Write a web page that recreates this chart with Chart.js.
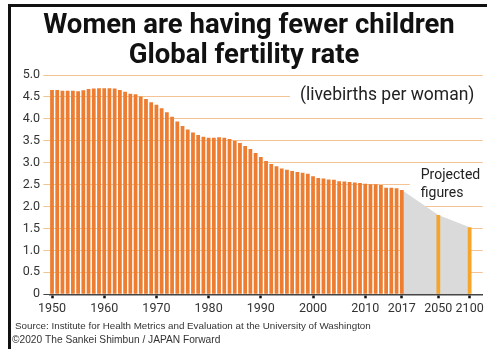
<!DOCTYPE html>
<html>
<head>
<meta charset="utf-8">
<script src="https://cdn.jsdelivr.net/npm/chart.js@4.4.1/dist/chart.umd.min.js"></script>
<style>
  html, body { margin: 0; padding: 0; background: #fff; }
  #wrap { position: relative; width: 487px; height: 349px; overflow: hidden; }
  #wrap canvas { position: absolute; left: 0; top: 0; }
  #frame { position: absolute; left: 8px; top: 4px; width: 500px; height: 360px;
           border-top: 3px solid #111; border-left: 3px solid #111; pointer-events: none; }
</style>
</head>
<body>
<div id="wrap">
  <canvas id="chart" width="487" height="349"></canvas>
  <div id="frame"></div>
</div>
<script>
// Global total fertility rate (live births per woman), 1950-2017
const historyYears = Array.from({ length: 68 }, (_, i) => String(1950 + i));
const fertility = [
  4.66, 4.66, 4.64, 4.64, 4.64, 4.63, 4.65, 4.68, 4.69, 4.70,   // 1950-1959
  4.70, 4.70, 4.69, 4.66, 4.62, 4.57, 4.56, 4.51, 4.45, 4.38,   // 1960-1969
  4.32, 4.24, 4.15, 4.05, 3.94, 3.84, 3.76, 3.69, 3.63, 3.59,   // 1970-1979
  3.57, 3.57, 3.58, 3.57, 3.54, 3.50, 3.45, 3.38, 3.31, 3.22,   // 1980-1989
  3.13, 3.04, 2.97, 2.92, 2.87, 2.84, 2.81, 2.79, 2.77, 2.75,   // 1990-1999
  2.69, 2.65, 2.64, 2.62, 2.61, 2.58, 2.57, 2.56, 2.55, 2.54,   // 2000-2009
  2.52, 2.51, 2.51, 2.49, 2.43, 2.43, 2.42, 2.38                // 2010-2017
];
// Projections
const projectedYears = ['2050', '2100'];
const projectedFertility = [1.81, 1.53];

// Years that get a tick dot and a label on the x axis
const tickYears = ['1950', '1960', '1970', '1980', '1990', '2000', '2010', '2017', '2050', '2100'];

const titleLines = ['Women are having fewer children', 'Global fertility rate'];
const unitLabel = '(livebirths per woman)';
const projectedLabel = ['Projected', 'figures'];
const sourceLines = [
  'Source: Institute for Health Metrics and Evaluation at the University of Washington',
  '\u00A92020 The Sankei Shimbun / JAPAN Forward'
];

// Category slots: projected years sit a few empty slots further along the axis
const blank = n => Array(n).fill('');
const categories = [
  ...historyYears,
  ...blank(6), projectedYears[0],
  ...blank(5), projectedYears[1],
  ...blank(2)
];

const historyData = categories.map(c => {
  const i = historyYears.indexOf(c);
  return i >= 0 ? fertility[i] : null;
});
const projectedData = categories.map(c => {
  const i = projectedYears.indexOf(c);
  return i >= 0 ? projectedFertility[i] : null;
});
// Shaded wedge from the last observed year through the projections
const lastYear = historyYears[historyYears.length - 1];
const shadeData = categories.map(c => {
  if (c === lastYear) return fertility[fertility.length - 1];
  const i = projectedYears.indexOf(c);
  return i >= 0 ? projectedFertility[i] : null;
});

const GRID = '#f3c393';
const AXIS = '#444';
const LABEL_FONT = 'Roboto, "Open Sans", sans-serif';

const decorations = {
  id: 'decorations',
  beforeDatasetsDraw(chart) {
    const { ctx, scales } = chart;
    const y = scales.y, x = scales.x;
    ctx.save();
    ctx.fillStyle = '#fff';
    // white backing behind the unit label and the projection note
    ctx.fillRect(290, y.getPixelForValue(4.5) - 8, chart.width - 290, 16);
    const projX = x.getPixelForValue(historyYears.length - 1) + 8;
    ctx.fillRect(projX, y.getPixelForValue(2.5) - 8, chart.width - projX, 16);
    ctx.restore();
  },
  afterDatasetsDraw(chart) {
    const { ctx, scales } = chart;
    const y = scales.y, x = scales.x;
    ctx.save();
    ctx.fillStyle = '#222';
    ctx.textAlign = 'left';
    ctx.textBaseline = 'middle';
    ctx.font = '17.5px ' + LABEL_FONT;
    ctx.fillText(unitLabel, 300, y.getPixelForValue(4.5) - 1);

    ctx.font = '14px ' + LABEL_FONT;
    ctx.textBaseline = 'alphabetic';
    const px = x.getPixelForValue(historyYears.length - 1) + 19;
    ctx.fillText(projectedLabel[0], px, 179);
    ctx.fillText(projectedLabel[1], px, 196.5);
    ctx.restore();
  },
  afterDraw(chart) {
    const { ctx } = chart;
    ctx.save();
    ctx.fillStyle = '#111';
    ctx.textAlign = 'center';
    ctx.textBaseline = 'alphabetic';
    ctx.font = 'bold 27.5px Roboto, "Open Sans", sans-serif';
    ctx.fillText(titleLines[0], 249, 33.3);
    ctx.fillText(titleLines[1], 244, 62.7);

    ctx.fillStyle = '#333';
    ctx.textAlign = 'left';
    ctx.font = '9.8px "Liberation Sans", Arial, sans-serif';
    ctx.fillText(sourceLines[0], 15, 328.5);
    ctx.font = '10.2px "Liberation Sans", Arial, sans-serif';
    ctx.fillText(sourceLines[1], 12, 342.5);
    ctx.restore();
  }
};

new Chart(document.getElementById('chart'), {
  type: 'bar',
  data: {
    labels: categories,
    datasets: [
      {
        type: 'bar', data: historyData, backgroundColor: '#ed7d31',
        barPercentage: 0.72, categoryPercentage: 1, grouped: false, order: 1
      },
      {
        type: 'bar', data: projectedData, backgroundColor: '#f5a52a',
        barPercentage: 0.72, categoryPercentage: 1, grouped: false, order: 1
      },
      {
        type: 'line', data: shadeData, spanGaps: true, fill: 'origin',
        backgroundColor: '#dadada', borderWidth: 0, pointRadius: 0, tension: 0, order: 3
      }
    ]
  },
  options: {
    responsive: false,
    animation: false,
    events: [],
    layout: { padding: { top: 75, left: 0, right: 4.3, bottom: 30.7 } },
    plugins: {
      legend: { display: false },
      tooltip: { enabled: false },
      title: { display: false }
    },
    scales: {
      x: {
        offset: true,
        grid: {
          display: true, offset: false, drawOnChartArea: false, drawTicks: true,
          tickLength: 4, tickWidth: 2.5,
          tickColor: ctx => tickYears.includes(categories[ctx.index]) ? '#111' : 'rgba(0,0,0,0)'
        },
        border: { display: true, color: AXIS, width: 1.5 },
        ticks: {
          autoSkip: false, maxRotation: 0, minRotation: 0, padding: 3,
          color: '#333', font: { family: LABEL_FONT, size: 12.5 },
          callback(v) {
            const l = this.getLabelForValue(v);
            return tickYears.includes(l) ? l : '';
          }
        },
        afterFit(s) { s.height = 24; }
      },
      y: {
        min: 0, max: 5,
        ticks: {
          stepSize: 0.5, padding: 3.4, color: '#333',
          font: { family: LABEL_FONT, size: 12.5 },
          callback: v => v === 0 ? '0' : v.toFixed(1)
        },
        grid: {
          color: ctx => ctx.tick && ctx.tick.value === 0 ? AXIS : GRID,
          tickColor: ctx => ctx.tick && ctx.tick.value === 0 ? AXIS : GRID,
          tickLength: 6, lineWidth: 1
        },
        border: { display: false },
        afterFit(s) { s.width = 49.4; }
      }
    }
  },
  plugins: [decorations]
});
</script>
</body>
</html>
